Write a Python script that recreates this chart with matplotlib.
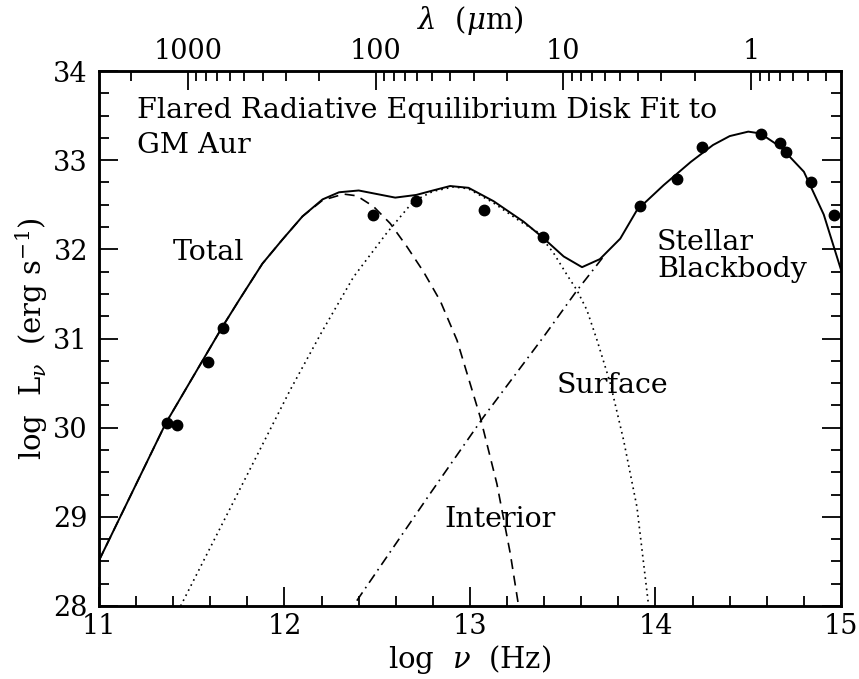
import numpy as np
import matplotlib
matplotlib.use('Agg')
import matplotlib.pyplot as plt

# Observed photometry (log nu [Hz], log L_nu [erg/s])
obs_lognu = [11.365, 11.419, 11.586, 11.667, 12.476, 12.71, 13.078, 13.391,
             13.918, 14.118, 14.252, 14.571, 14.669, 14.702, 14.840, 14.961]
obs_logL = [30.05, 30.03, 30.74, 31.12, 32.39, 32.54, 32.44, 32.14,
            32.49, 32.79, 33.15, 33.29, 33.19, 33.09, 32.75, 32.39]

# Model components
total_lognu = [11.0, 11.36, 11.665, 11.755, 11.881, 11.989, 12.097, 12.205,
               12.294, 12.40, 12.597, 12.71, 12.80, 12.893, 12.992, 13.127, 13.289,
               13.388, 13.505, 13.604, 13.70, 13.81, 13.90, 14.044, 14.19, 14.31,
               14.40, 14.50, 14.565, 14.673, 14.80, 14.907, 15.0]
total_logL = [28.51, 30.05, 31.13, 31.43, 31.84, 32.11, 32.37, 32.56,
              32.64, 32.66, 32.58, 32.61, 32.66, 32.71, 32.69, 32.54, 32.31,
              32.14, 31.92, 31.80, 31.89, 32.12, 32.44, 32.72, 32.98, 33.17,
              33.27, 33.32, 33.30, 33.15, 32.87, 32.39, 31.77]

interior_lognu = [11.0, 11.36, 11.665, 11.755, 11.881, 11.989, 12.097, 12.205,
                  12.318, 12.39, 12.48, 12.57, 12.66, 12.749, 12.84, 12.93, 13.055,
                  13.145, 13.217, 13.262]
interior_logL = [28.51, 30.05, 31.13, 31.43, 31.84, 32.11, 32.37, 32.55,
                 32.62, 32.60, 32.48, 32.29, 32.03, 31.75, 31.42, 30.98, 30.12,
                 29.37, 28.59, 28.0]

surface_lognu = [11.44, 12.03, 12.20, 12.372, 12.55, 12.695, 12.80, 12.91, 12.99,
                 13.12, 13.28, 13.36, 13.45, 13.53, 13.577, 13.63, 13.685, 13.756,
                 13.828, 13.90, 13.963]
surface_logL = [28.0, 30.42, 31.07, 31.69, 32.18, 32.54, 32.65, 32.70, 32.68,
                32.53, 32.30, 32.20, 31.96, 31.69, 31.54, 31.32, 30.98, 30.50,
                29.86, 29.11, 28.0]

stellar_lognu = [12.39, 12.785, 13.073, 13.397, 13.577, 13.63, 13.72]
stellar_logL = [28.06, 29.26, 30.12, 31.02, 31.54, 31.68, 31.92]

# Wavelength axis (microns) along the top
lam_major = [1000, 100, 10, 1]
lam_minor = [2000, 900, 800, 700, 600, 500, 400, 300, 200,
             90, 80, 70, 60, 50, 40, 30, 20,
             9, 8, 7, 6, 5, 4, 3, 2,
             0.9, 0.8, 0.7, 0.6, 0.5, 0.4]
LAM_ZERO = 14.515
LAM_SLOPE = 1.012


def lam_to_lognu(lam):
    return LAM_ZERO - LAM_SLOPE * np.log10(np.asarray(lam, dtype=float))


plt.rcParams['font.family'] = 'DejaVu Serif'
plt.rcParams['mathtext.fontset'] = 'dejavuserif'

fig = plt.figure(figsize=(8.59, 6.79), dpi=100)
ax = fig.add_axes([99 / 859, 1 - 606 / 679, 742 / 859, 535 / 679])

ax.plot(total_lognu, total_logL, color='black', lw=1.4)
ax.plot(interior_lognu, interior_logL, color='black', lw=1.2, dashes=(6, 4))
ax.plot(surface_lognu, surface_logL, color='black', lw=1.2, dashes=(1, 2.4))
ax.plot(stellar_lognu, stellar_logL, color='black', lw=1.2, dashes=(6, 3, 1, 3))
ax.plot(obs_lognu, obs_logL, 'o', color='black', ms=7.5)

ax.set_xlim(11, 15)
ax.set_ylim(28, 34)
ax.set_xticks(np.arange(11, 16, 1))
ax.set_xticks(np.arange(11, 15.01, 0.2), minor=True)
ax.set_yticks(np.arange(28, 35, 1))
ax.set_yticks(np.arange(28, 34.01, 0.25), minor=True)
ax.tick_params(which='both', direction='in', top=False, right=True, width=1.3,
               labelsize=19.5)
ax.tick_params(which='major', length=14)
ax.tick_params(which='minor', length=7)
ax.tick_params(axis='x', pad=5)
ax.tick_params(axis='y', pad=8)
for s in ax.spines.values():
    s.set_linewidth(1.8)

ax.set_xlabel(r'log  $\nu$  (Hz)', fontsize=21, labelpad=2)
ax.set_ylabel(r'log  L$_\nu$  (erg s$^{-1}$)', fontsize=21, labelpad=2)

# top axis in wavelength
ax2 = ax.twiny()
ax2.set_xlim(11, 15)
ax2.set_xticks(lam_to_lognu(lam_major))
ax2.set_xticklabels([str(v) for v in lam_major])
ax2.set_xticks(lam_to_lognu(lam_minor), minor=True)
ax2.tick_params(which='both', direction='in', width=1.3, labelsize=19.5, pad=4)
ax2.tick_params(which='major', length=14)
ax2.tick_params(which='minor', length=7)
ax2.set_xlabel(r'$\lambda$  ($\mu$m)', fontsize=21, labelpad=7)
for s in ax2.spines.values():
    s.set_linewidth(1.8)

fs = 20.5
ax.text(11.205, 33.47, 'Flared Radiative Equilibrium Disk Fit to', fontsize=fs, va='baseline')
ax.text(11.205, 33.08, 'GM Aur', fontsize=fs, va='baseline')
ax.text(11.40, 31.88, 'Total', fontsize=fs, va='baseline')
ax.text(14.008, 31.99, 'Stellar', fontsize=fs, va='baseline')
ax.text(14.008, 31.69, 'Blackbody', fontsize=fs, va='baseline')
ax.text(13.469, 30.385, 'Surface', fontsize=fs, va='baseline')
ax.text(12.861, 28.89, 'Interior', fontsize=fs, va='baseline')

fig.savefig('out.png', dpi=100)
